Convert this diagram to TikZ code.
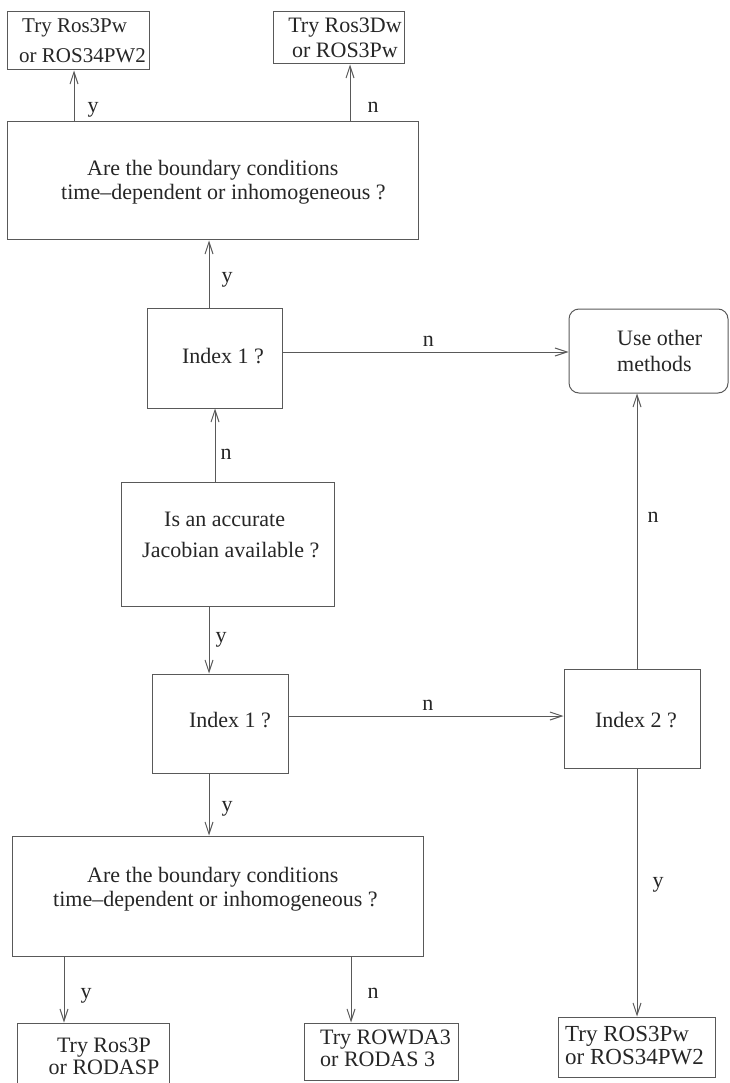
\documentclass[tikz,border=0pt]{standalone}
\usepackage{fontspec}
\setmainfont{Liberation Serif}
\usetikzlibrary{arrows.meta}
\definecolor{linegray}{gray}{0.35}

\begin{document}
\begin{tikzpicture}[x=1pt, y=-1pt, >={Straight Barb[length=12pt,width=8pt]},
		every node/.style={font=\fontsize{22}{25}\selectfont},
		box/.style 2 args={draw=linegray, line width=1pt, minimum width=#1, minimum height=#2, inner sep=0},
		txt/.style={inner sep=0, text=black!85, align=center},
		lbl/.style={inner sep=0, text=black!85, anchor=base west},
		arr/.style={->, draw=linegray, line width=1pt}]
		\useasboundingbox (0,0) rectangle (729,1083);
		%\draw [thin, help lines, step=50] (0,0) grid (729,1083);

		% boxes
		\node [box={142pt}{58pt}] (trytl) at (78,41) {};
		\node [box={131pt}{52pt}] (trytr) at (338.5,38) {};
		\node [box={411pt}{118pt}] (bndtop) at (212.5,181) {};
		\node [box={135pt}{100pt}] (ind1a) at (214.5,358) {};
		\node [box={159pt}{84pt}, rounded corners=10pt] (other) at (648.5,351) {};
		\node [box={213pt}{124pt}] (jac) at (227.5,544) {};
		\node [box={136pt}{99pt}] (ind1b) at (220,723.5) {};
		\node [box={136pt}{99pt}] (ind2) at (632,718.5) {};
		\node [box={411pt}{120pt}] (bndbot) at (217.5,896) {};
		\node [box={152pt}{72pt}] (trybl) at (93,1059) {};
		\node [box={154pt}{57pt}] (trybm) at (381,1051.5) {};
		\node [box={157pt}{60pt}] (trybr) at (636.5,1047) {};

		% texts
		\node [txt, anchor=north west, align=left, font=\fontsize{21}{30}\selectfont] (trytl-t) at (19,18) {\hspace*{3pt}Try Ros3Pw\\or ROS34PW2};
		\node [txt, anchor=north] (trytr-t) at (345,18) {Try Ros3Dw\\or ROS3Pw};
		\node [txt, anchor=north west, align=left, font=\fontsize{22}{24}\selectfont] (bndtop-t) at (61,160) {\hspace*{26pt}Are the boundary conditions\\time--dependent or inhomogeneous ?};
		\node [txt, anchor=base] (ind1a-t) at (223,363) {Index 1 ?};
		\node [txt, anchor=north west, align=left, font=\fontsize{22}{26}\selectfont] (other-t) at (617,330) {Use other\\methods};
		\node [txt, anchor=north west, align=left, font=\fontsize{22}{31}\selectfont] (jac-t) at (142,512) {\hspace*{22pt}Is an accurate\\Jacobian available ?};
		\node [txt, anchor=base] (ind1b-t) at (230,727) {Index 1 ?};
		\node [txt, anchor=base] (ind2-t) at (636,727) {Index 2 ?};
		\node [txt, anchor=north west, align=left, font=\fontsize{22}{24}\selectfont] (bndbot-t) at (53,867) {\hspace*{34pt}Are the boundary conditions\\time--dependent or inhomogeneous ?};
		\node [txt, anchor=north, font=\fontsize{22}{22}\selectfont] (trybl-t) at (104,1038) {Try Ros3P\\or RODASP};
		\node [txt, anchor=north west, align=left, font=\fontsize{22}{22}\selectfont] (trybm-t) at (320,1030) {Try ROWDA3\\or RODAS 3};
		\node [txt, anchor=north west, align=left, font=\fontsize{23}{23}\selectfont] (trybr-t) at (565,1026) {Try ROS3Pw\\or ROS34PW2};

		% arrows
		\draw [arr] ([xshift=-138.5pt]bndtop.north) -- ([xshift=-4pt]trytl.south) node [lbl, pos = 0.17, xshift=13pt] {y};
		\draw [arr] ([xshift=137.5pt]bndtop.north) -- ([xshift=11.5pt]trytr.south) node [lbl, pos = 0.155, xshift=17pt] {n};
		\draw [arr] ([xshift=-5.5pt]ind1a.north) -- ([xshift=-3.5pt]bndtop.south) node [lbl, pos = 0.37, xshift=12pt] {y};
		\draw [arr] ([yshift=6pt]ind1a.east) -- ([yshift=-1pt]other.west) node [lbl, anchor=base, pos = 0.51, yshift=6pt] {n};
		\draw [arr] ([xshift=-12.5pt]jac.north) -- ([xshift=0.5pt]ind1a.south) node [lbl, pos = 0.3, xshift=5pt] {n};
		\draw [arr] ([xshift=-18.5pt]jac.south) -- ([xshift=-11pt]ind1b.north) node [lbl, pos = 0.54, xshift=6pt] {y};
		\draw [arr] ([yshift=7.5pt]ind1b.east) -- ([yshift=2.5pt]ind2.west) node [lbl, anchor=base, pos = 0.507, yshift=6pt] {n};
		\draw [arr] ([xshift=-11pt]ind1b.south) -- ([xshift=-8.5pt]bndbot.north) node [lbl, pos = 0.62, xshift=12pt] {y};
		\draw [arr] ([xshift=5pt]ind2.north) -- ([xshift=-11.5pt]other.south) node [lbl, pos = 0.53, xshift=10pt] {n};
		\draw [arr] ([xshift=5pt]ind2.south) -- ([xshift=0.5pt]trybr.north) node [lbl, pos = 0.48, xshift=15pt] {y};
		\draw [arr] ([xshift=-153.5pt]bndbot.south) -- ([xshift=-29pt]trybl.north) node [lbl, pos = 0.63, xshift=16pt] {y};
		\draw [arr] ([xshift=133.5pt]bndbot.south) -- ([xshift=-30pt]trybm.north) node [lbl, pos = 0.63, xshift=16pt] {n};
	\end{tikzpicture}
\end{document}
